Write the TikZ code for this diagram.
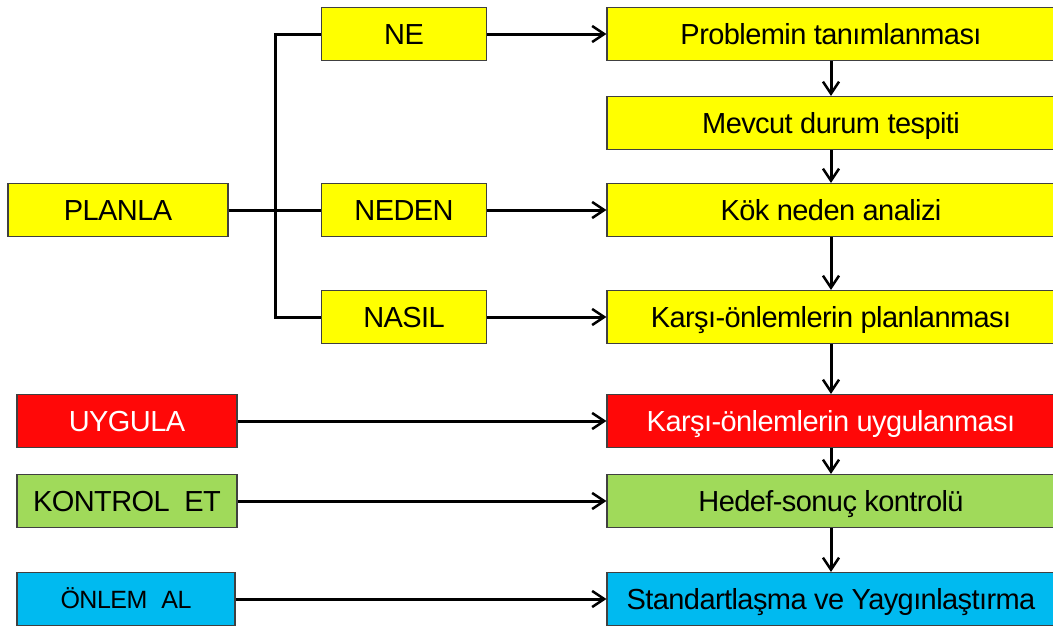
\documentclass[tikz,border=0pt]{standalone}
\usepackage{fontspec}
\setmainfont{Liberation Sans}[LetterSpace=-2]
\usepackage{xcolor}
\usetikzlibrary{positioning,calc,arrows.meta}

\definecolor{pdcyellow}{RGB}{255,255,0}
\definecolor{pdcred}{RGB}{255,8,8}
\definecolor{pdcgreen}{RGB}{160,218,90}
\definecolor{pdcblue}{RGB}{0,186,240}
\definecolor{pdcedge}{RGB}{64,64,64}

\tikzset{
    box/.style={draw=pdcedge, line width=1.2pt, minimum height=53pt, inner sep=0pt,
        text height=21pt, text depth=0pt, font=\fontsize{29}{34}\selectfont},
    stage/.style={box, minimum width=220pt},
    key/.style={box, minimum width=165pt},
    task/.style={box, minimum width=448pt},
    link/.style={line width=3pt},
    flow/.style={link, -{Straight Barb[length=12pt,width=16pt,line width=2.5pt]}}
}

\begin{document}
\begin{tikzpicture}[x=1pt, y=-1pt]
    \useasboundingbox (0,0) rectangle (1053,625);

    % Plan stages
    \node[stage, fill=pdcyellow] (planla) at (118,210) {PLANLA};
    \node[key, fill=pdcyellow] (ne) at (404,34) {NE};
    \node[key, fill=pdcyellow] (neden) at (404,210) {NEDEN};
    \node[key, fill=pdcyellow] (nasil) at (404,317) {NASIL};

    % Do, check, act
    \node[stage, fill=pdcred, text=white] (uygula) at (127,421) {UYGULA};
    \node[stage, fill=pdcgreen] (kontrol) at (127,501) {KONTROL\hspace{0.25em} ET};
    \node[stage, fill=pdcblue, minimum width=218pt, text height=18pt, font=\fontsize{25}{30}\selectfont] (onlem) at (126,599) {ÖNLEM\hspace{0.3em} AL};

    % Steps
    \node[task, fill=pdcyellow] (tanim) at (831,34) {Problemin tanımlanması};
    \node[task, fill=pdcyellow] (mevcut) at (831,123) {Mevcut durum tespiti};
    \node[task, fill=pdcyellow] (kok) at (831,210) {Kök neden analizi};
    \node[task, fill=pdcyellow] (plan) at (831,317) {Karşı-önlemlerin planlanması};
    \node[task, fill=pdcred, text=white] (uyg) at (831,421) {Karşı-önlemlerin uygulanması};
    \node[task, fill=pdcgreen] (hedef) at (831,501) {Hedef-sonuç kontrolü};
    \node[task, fill=pdcblue] (std) at (831,599) {Standartlaşma ve Yaygınlaştırma};

    % Branch
    \coordinate (bar) at (275,210);
    \draw[link] (planla) -- (neden);
    \draw[link] (ne.west) -| (bar) |- (nasil.west);

    % Horizontal arrows
    \draw[flow] (ne) -- (tanim);
    \draw[flow] (neden) -- (kok);
    \draw[flow] (nasil) -- (plan);
    \draw[flow] (uygula) -- (uyg);
    \draw[flow] (kontrol) -- (hedef);
    \draw[flow] (onlem) -- (std);

    % Vertical arrows
    \draw[flow] (tanim) -- (mevcut);
    \draw[flow] (mevcut) -- (kok);
    \draw[flow] (kok) -- (plan);
    \draw[flow] (plan) -- (uyg);
    \draw[flow] (uyg) -- (hedef);
    \draw[flow] (hedef) -- (std);
\end{tikzpicture}
\end{document}
